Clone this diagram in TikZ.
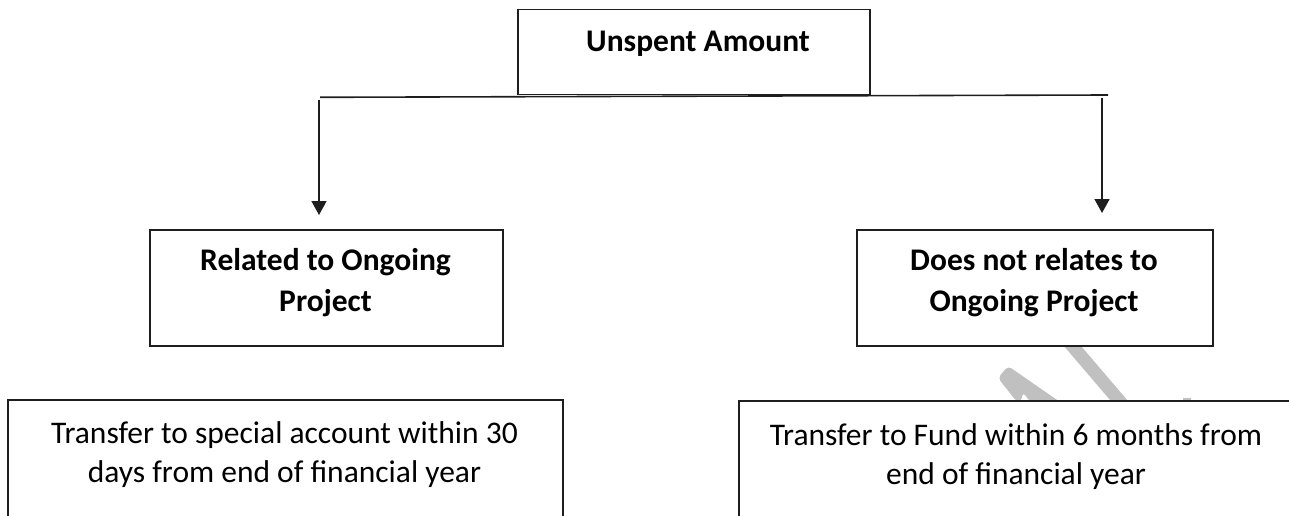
\documentclass[tikz,border=0pt]{standalone}
\usepackage{fontspec}
\setmainfont{Carlito}
\usetikzlibrary{arrows.meta}
\definecolor{edge}{RGB}{30,30,30}
\definecolor{wmgrey}{RGB}{192,192,192}
\begin{document}
\begin{tikzpicture}[x=1pt,y=-1pt,
  box/.style={draw=edge, line width=1.5pt, fill=white, rectangle, inner sep=0pt, anchor=north west},
  head/.style={font=\bfseries\fontsize{31.5}{40}\selectfont, anchor=base, inner sep=0pt},
  body/.style={font=\fontsize{31.5}{39}\selectfont, anchor=base, inner sep=0pt},
  link/.style={draw=edge, line width=1.6pt},
  arrowlink/.style={link, -{Triangle[length=14pt,width=15pt]}}]
\useasboundingbox (0,0) rectangle (1289,516);
\clip (0,0) rectangle (1289,516);

% grey watermark strokes, partly hidden behind the boxes
\draw[wmgrey, line width=13pt, line cap=round] (1040,308) -- (1122,404);
\fill[wmgrey, rounded corners=4pt] (998,378) -- (1017,402) -- (1021,402) -- (1023,392)
  -- (1030,402) -- (1060,402) -- (1008,366) -- cycle;
\fill[wmgrey] (1183,398) rectangle (1191,401);

% boxes
\node[box, minimum width=352pt, minimum height=85pt] (top) at (517,9) {};
\node[box, minimum width=353pt, minimum height=116pt] (rel) at (149,229) {};
\node[box, minimum width=356pt, minimum height=116pt] (notrel) at (856,229) {};
\node[box, minimum width=555pt, minimum height=200pt] (bl) at (7,399) {};
\node[box, minimum width=560pt, minimum height=200pt] (br) at (738,400) {};

% box texts
\node[head] (topt) at (698,52) {Unspent Amount};
\node[head] (relt1) at (325.5,270) {Related to Ongoing};
\node[head] (relt2) at (325.5,311) {Project};
\node[head] (nrt1) at (1034,270) {Does not relates to};
\node[head] (nrt2) at (1034,311) {Ongoing Project};
\node[body] (blt1) at (284.5,443) {Transfer to special account within 30};
\node[body] (blt2) at (284.5,482) {days from end of financial year};
\node[body] (brt1) at (1016,445) {Transfer to Fund within 6 months from};
\node[body] (brt2) at (1016,484) {end of financial year};

% branching line and arrows
\coordinate (hl) at (320,97.3);
\coordinate (hr) at (1108,95);
\draw[link] (hl) -- (hr);
\coordinate (al) at (319,100);
\coordinate (ar) at (1102,98);
\draw[arrowlink, shorten >=14pt] (al) -- (al |- rel.north);
\draw[arrowlink, shorten >=16pt] (ar) -- (ar |- notrel.north);
\end{tikzpicture}
\end{document}
